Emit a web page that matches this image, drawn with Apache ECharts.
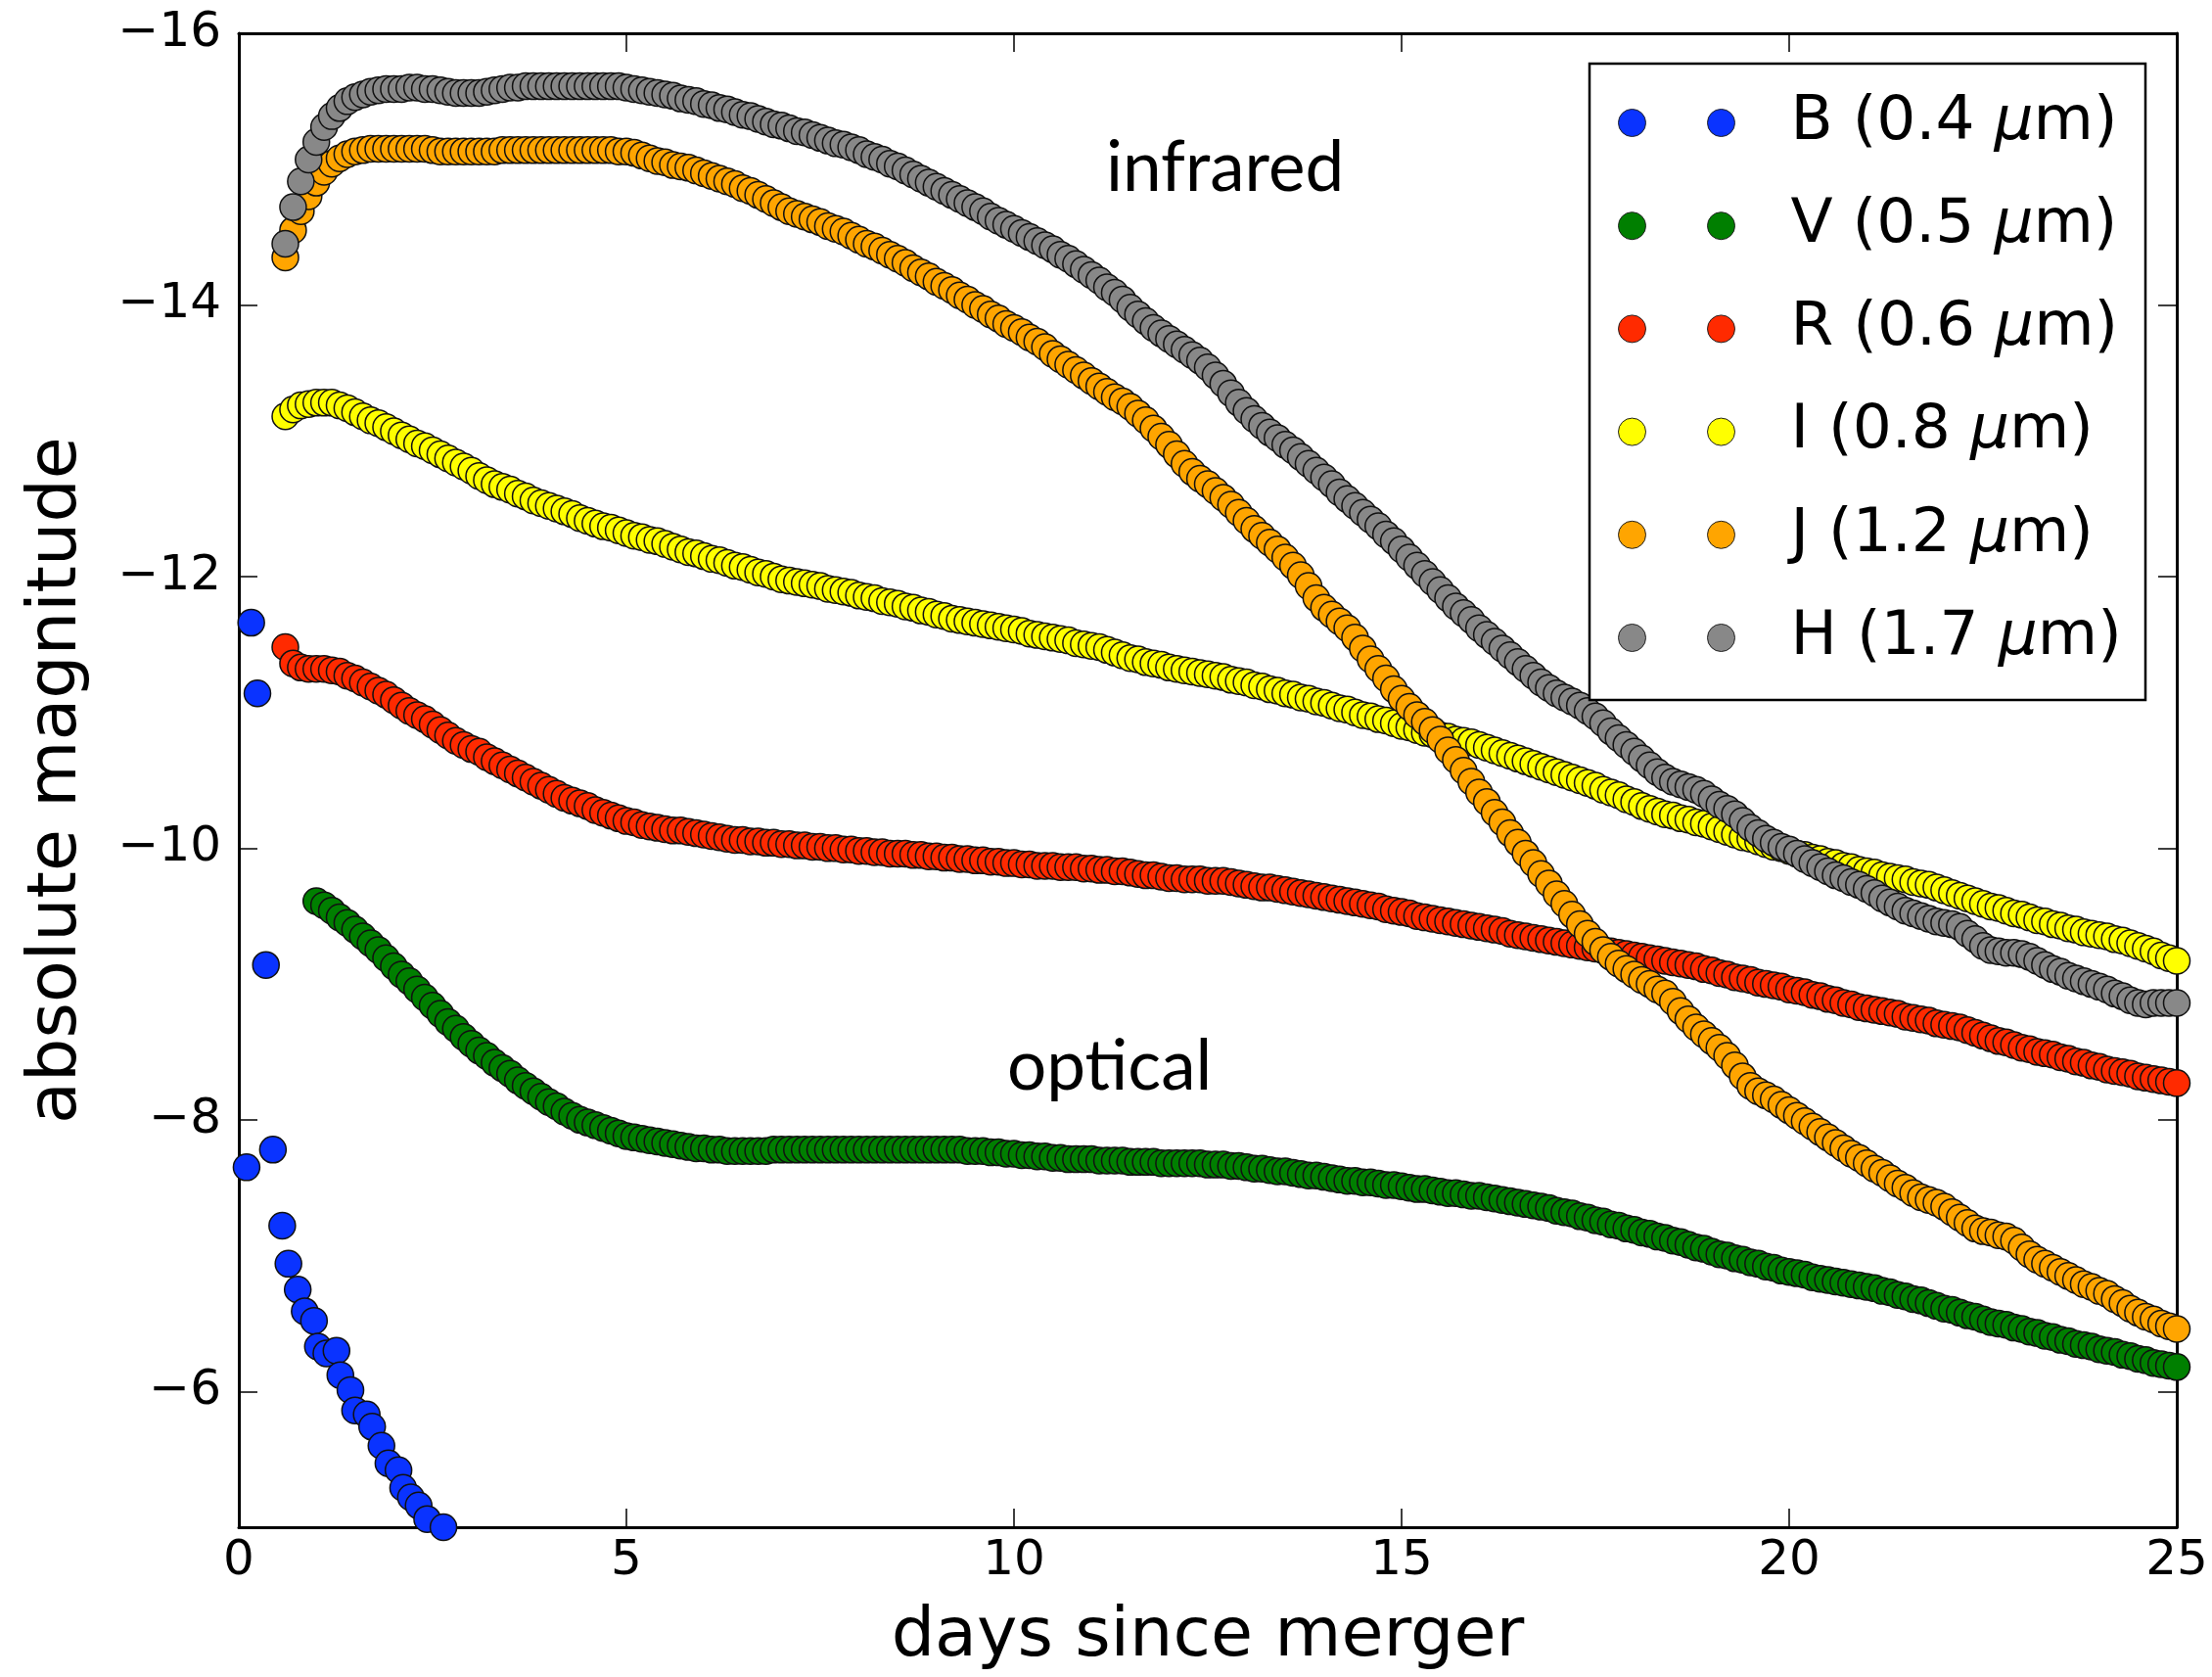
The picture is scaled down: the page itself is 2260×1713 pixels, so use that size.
<!DOCTYPE html>
<html><head><meta charset="utf-8">
<script src="https://cdn.jsdelivr.net/npm/echarts@6/dist/echarts.min.js"></script>
<style>html,body{margin:0;padding:0;background:#fff}#c{width:2260px;height:1713px}</style>
</head><body><div id="c"></div>
<script>
// ---------- DATA ----------
const days = [0.6,0.7,0.8,0.9,
1.0,1.1,1.2,1.3,1.4,1.5,1.6,1.7,1.8,1.9,
2.0,2.1,2.2,2.3,2.4,2.5,2.6,2.7,2.8,2.9,
3.0,3.1,3.2,3.3,3.4,3.5,3.6,3.7,3.8,3.9,
4.0,4.1,4.2,4.3,4.4,4.5,4.6,4.7,4.8,4.9,
5.0,5.1,5.2,5.3,5.4,5.5,5.6,5.7,5.8,5.9,
6.0,6.1,6.2,6.3,6.4,6.5,6.6,6.7,6.8,6.9,
7.0,7.1,7.2,7.3,7.4,7.5,7.6,7.7,7.8,7.9,
8.0,8.1,8.2,8.3,8.4,8.5,8.6,8.7,8.8,8.9,
9.0,9.1,9.2,9.3,9.4,9.5,9.6,9.7,9.8,9.9,
10.0,10.1,10.2,10.3,10.4,10.5,10.6,10.7,10.8,10.9,
11.0,11.1,11.2,11.3,11.4,11.5,11.6,11.7,11.8,11.9,
12.0,12.1,12.2,12.3,12.4,12.5,12.6,12.7,12.8,12.9,
13.0,13.1,13.2,13.3,13.4,13.5,13.6,13.7,13.8,13.9,
14.0,14.1,14.2,14.3,14.4,14.5,14.6,14.7,14.8,14.9,
15.0,15.1,15.2,15.3,15.4,15.5,15.6,15.7,15.8,15.9,
16.0,16.1,16.2,16.3,16.4,16.5,16.6,16.7,16.8,16.9,
17.0,17.1,17.2,17.3,17.4,17.5,17.6,17.7,17.8,17.9,
18.0,18.1,18.2,18.3,18.4,18.5,18.6,18.7,18.8,18.9,
19.0,19.1,19.2,19.3,19.4,19.5,19.6,19.7,19.8,19.9,
20.0,20.1,20.2,20.3,20.4,20.5,20.6,20.7,20.8,20.9,
21.0,21.1,21.2,21.3,21.4,21.5,21.6,21.7,21.8,21.9,
22.0,22.1,22.2,22.3,22.4,22.5,22.6,22.7,22.8,22.9,
23.0,23.1,23.2,23.3,23.4,23.5,23.6,23.7,23.8,23.9,
24.0,24.1,24.2,24.3,24.4,24.5,24.6,24.7,24.8,24.9,
25.0];

// B band: its own sampling times
const bDays = [0.10,0.16,0.24,0.35,0.44,0.56,0.64,0.76,0.85,0.97,1.02,1.13,1.26,1.31,1.44,1.50,1.65,1.72,1.84,1.93,2.06,2.12,2.22,2.32,2.43,2.64];
const bMag  = [-7.65,-11.66,-11.14,-9.14,-7.78,-7.22,-6.94,-6.75,-6.59,-6.52,-6.33,-6.28,-6.30,-6.12,-6.01,-5.86,-5.83,-5.74,-5.60,-5.47,-5.42,-5.29,-5.22,-5.16,-5.06,-5.00];

// V band: starts at day 1.0 (index 4 of days)
const vStartIndex = 4;
const vMag = [
-9.61,-9.58,-9.54,-9.49,-9.45,-9.40,-9.35,-9.30,-9.25,-9.19,
-9.13,-9.07,-9.02,-8.96,-8.90,-8.84,-8.78,-8.72,-8.67,-8.61,
-8.56,-8.51,-8.47,-8.42,-8.38,-8.34,-8.29,-8.25,-8.21,-8.17,
-8.13,-8.10,-8.06,-8.03,-8.00,-7.98,-7.96,-7.94,-7.92,-7.90,
-7.88,-7.87,-7.86,-7.85,-7.84,-7.83,-7.82,-7.81,-7.80,-7.79,
-7.79,-7.78,-7.78,-7.77,-7.77,-7.77,-7.77,-7.77,-7.77,-7.78,
-7.78,-7.78,-7.78,-7.78,-7.78,-7.78,-7.78,-7.78,-7.78,-7.78,
-7.78,-7.78,-7.78,-7.78,-7.78,-7.78,-7.78,-7.78,-7.78,-7.78,
-7.78,-7.78,-7.78,-7.78,-7.77,-7.77,-7.77,-7.76,-7.76,-7.75,
-7.75,-7.74,-7.74,-7.73,-7.73,-7.72,-7.72,-7.71,-7.71,-7.71,
-7.71,-7.70,-7.70,-7.70,-7.70,-7.69,-7.69,-7.69,-7.69,-7.68,
-7.68,-7.68,-7.68,-7.68,-7.68,-7.67,-7.67,-7.67,-7.66,-7.66,
-7.65,-7.64,-7.64,-7.63,-7.62,-7.62,-7.61,-7.60,-7.59,-7.59,
-7.58,-7.57,-7.56,-7.55,-7.55,-7.54,-7.54,-7.53,-7.52,-7.52,
-7.51,-7.50,-7.49,-7.49,-7.48,-7.47,-7.46,-7.46,-7.45,-7.44,
-7.44,-7.43,-7.42,-7.41,-7.40,-7.39,-7.38,-7.37,-7.36,-7.35,
-7.33,-7.32,-7.31,-7.29,-7.28,-7.26,-7.25,-7.23,-7.22,-7.20,
-7.19,-7.17,-7.16,-7.14,-7.13,-7.11,-7.10,-7.08,-7.06,-7.05,
-7.03,-7.01,-7.00,-6.98,-6.97,-6.95,-6.94,-6.92,-6.91,-6.89,
-6.88,-6.87,-6.86,-6.84,-6.83,-6.82,-6.81,-6.80,-6.79,-6.78,
-6.77,-6.76,-6.74,-6.73,-6.71,-6.70,-6.68,-6.67,-6.65,-6.63,
-6.61,-6.60,-6.58,-6.56,-6.55,-6.53,-6.51,-6.50,-6.49,-6.47,
-6.46,-6.44,-6.43,-6.41,-6.40,-6.38,-6.37,-6.35,-6.34,-6.33,
-6.31,-6.30,-6.29,-6.27,-6.26,-6.24,-6.23,-6.21,-6.20,-6.19,
-6.18];

const rMag = [
-11.48,-11.36,-11.33,-11.32,
-11.32,-11.32,-11.31,-11.30,-11.27,-11.25,-11.22,-11.19,-11.16,-11.13,
-11.09,-11.05,-11.01,-10.98,-10.95,-10.91,-10.87,-10.83,-10.79,-10.76,
-10.73,-10.71,-10.67,-10.64,-10.61,-10.58,-10.55,-10.52,-10.49,-10.46,
-10.43,-10.40,-10.37,-10.35,-10.33,-10.31,-10.28,-10.26,-10.24,-10.22,
-10.20,-10.19,-10.17,-10.16,-10.15,-10.14,-10.13,-10.13,-10.12,-10.11,
-10.10,-10.09,-10.08,-10.07,-10.06,-10.06,-10.05,-10.05,-10.04,-10.04,
-10.03,-10.03,-10.02,-10.02,-10.01,-10.01,-10.00,-10.00,-9.99,-9.99,
-9.98,-9.98,-9.97,-9.97,-9.96,-9.96,-9.96,-9.95,-9.95,-9.94,
-9.94,-9.93,-9.93,-9.92,-9.92,-9.91,-9.91,-9.90,-9.90,-9.89,
-9.89,-9.88,-9.88,-9.87,-9.87,-9.87,-9.86,-9.86,-9.86,-9.85,
-9.85,-9.84,-9.84,-9.83,-9.83,-9.82,-9.81,-9.80,-9.80,-9.79,
-9.78,-9.78,-9.77,-9.77,-9.77,-9.76,-9.76,-9.76,-9.75,-9.74,
-9.73,-9.72,-9.71,-9.71,-9.70,-9.69,-9.68,-9.67,-9.66,-9.65,
-9.64,-9.63,-9.62,-9.61,-9.60,-9.59,-9.58,-9.57,-9.55,-9.54,
-9.53,-9.52,-9.50,-9.49,-9.48,-9.47,-9.46,-9.45,-9.44,-9.43,
-9.42,-9.41,-9.40,-9.39,-9.37,-9.36,-9.35,-9.34,-9.33,-9.32,
-9.31,-9.30,-9.29,-9.28,-9.27,-9.26,-9.25,-9.24,-9.23,-9.22,
-9.21,-9.20,-9.19,-9.18,-9.17,-9.16,-9.15,-9.14,-9.13,-9.11,
-9.10,-9.08,-9.07,-9.05,-9.04,-9.03,-9.01,-9.00,-8.99,-8.98,
-8.96,-8.95,-8.94,-8.92,-8.91,-8.89,-8.88,-8.86,-8.85,-8.83,
-8.82,-8.81,-8.80,-8.79,-8.78,-8.76,-8.75,-8.74,-8.73,-8.71,
-8.70,-8.69,-8.68,-8.66,-8.64,-8.62,-8.60,-8.58,-8.57,-8.55,
-8.53,-8.52,-8.50,-8.49,-8.48,-8.46,-8.45,-8.43,-8.42,-8.40,
-8.39,-8.37,-8.36,-8.35,-8.34,-8.32,-8.31,-8.30,-8.29,-8.28,
-8.27];

const iMag = [
-13.18,-13.23,-13.26,-13.27,
-13.28,-13.28,-13.28,-13.26,-13.24,-13.21,-13.18,-13.15,-13.13,-13.10,
-13.07,-13.04,-13.01,-12.98,-12.96,-12.93,-12.90,-12.87,-12.84,-12.81,
-12.78,-12.74,-12.71,-12.68,-12.66,-12.64,-12.61,-12.59,-12.56,-12.54,
-12.52,-12.50,-12.48,-12.46,-12.43,-12.41,-12.39,-12.37,-12.36,-12.34,
-12.32,-12.30,-12.29,-12.27,-12.26,-12.24,-12.22,-12.20,-12.18,-12.17,
-12.15,-12.13,-12.12,-12.10,-12.08,-12.07,-12.05,-12.03,-12.02,-12.00,
-11.98,-11.97,-11.96,-11.95,-11.94,-11.93,-11.91,-11.90,-11.89,-11.88,
-11.86,-11.85,-11.84,-11.82,-11.81,-11.80,-11.78,-11.77,-11.75,-11.74,
-11.72,-11.71,-11.69,-11.68,-11.67,-11.66,-11.65,-11.64,-11.63,-11.62,
-11.61,-11.60,-11.58,-11.57,-11.56,-11.55,-11.54,-11.53,-11.51,-11.50,
-11.49,-11.48,-11.46,-11.44,-11.42,-11.40,-11.39,-11.37,-11.36,-11.35,
-11.33,-11.32,-11.31,-11.30,-11.29,-11.28,-11.27,-11.26,-11.24,-11.23,
-11.22,-11.20,-11.19,-11.17,-11.16,-11.14,-11.13,-11.11,-11.10,-11.08,
-11.07,-11.05,-11.03,-11.02,-11.00,-10.98,-10.97,-10.95,-10.94,-10.92,
-10.90,-10.89,-10.87,-10.85,-10.84,-10.83,-10.82,-10.80,-10.79,-10.78,
-10.76,-10.74,-10.72,-10.70,-10.68,-10.66,-10.64,-10.62,-10.60,-10.58,
-10.56,-10.54,-10.52,-10.50,-10.48,-10.46,-10.43,-10.41,-10.39,-10.36,
-10.34,-10.31,-10.29,-10.27,-10.25,-10.24,-10.22,-10.21,-10.19,-10.18,
-10.16,-10.14,-10.12,-10.10,-10.08,-10.07,-10.05,-10.03,-10.01,-10.00,
-9.98,-9.96,-9.95,-9.93,-9.92,-9.90,-9.89,-9.87,-9.86,-9.84,
-9.83,-9.82,-9.80,-9.79,-9.78,-9.77,-9.75,-9.74,-9.73,-9.71,
-9.69,-9.67,-9.65,-9.63,-9.61,-9.59,-9.57,-9.56,-9.54,-9.52,
-9.51,-9.49,-9.47,-9.46,-9.44,-9.43,-9.41,-9.40,-9.38,-9.37,
-9.36,-9.35,-9.33,-9.32,-9.30,-9.28,-9.26,-9.24,-9.21,-9.19,
-9.17];

const jMag = [
-14.35,-14.55,-14.69,-14.80,
-14.90,-14.98,-15.04,-15.08,-15.11,-15.13,-15.14,-15.15,-15.15,-15.15,
-15.15,-15.15,-15.15,-15.15,-15.15,-15.14,-15.13,-15.13,-15.13,-15.13,
-15.13,-15.13,-15.13,-15.13,-15.14,-15.14,-15.14,-15.14,-15.14,-15.14,
-15.14,-15.14,-15.14,-15.14,-15.14,-15.14,-15.14,-15.14,-15.14,-15.13,
-15.13,-15.12,-15.10,-15.08,-15.06,-15.05,-15.03,-15.02,-15.01,-14.99,
-14.97,-14.95,-14.93,-14.91,-14.89,-14.86,-14.84,-14.81,-14.78,-14.75,
-14.72,-14.69,-14.67,-14.65,-14.63,-14.61,-14.58,-14.56,-14.54,-14.51,
-14.48,-14.45,-14.43,-14.40,-14.37,-14.34,-14.31,-14.27,-14.24,-14.21,
-14.17,-14.14,-14.11,-14.07,-14.04,-14.00,-13.97,-13.93,-13.90,-13.86,
-13.83,-13.80,-13.76,-13.73,-13.69,-13.64,-13.60,-13.56,-13.52,-13.48,
-13.44,-13.40,-13.36,-13.32,-13.29,-13.25,-13.20,-13.15,-13.09,-13.03,
-12.97,-12.90,-12.83,-12.77,-12.72,-12.68,-12.63,-12.58,-12.53,-12.47,
-12.41,-12.35,-12.30,-12.25,-12.20,-12.14,-12.08,-12.01,-11.93,-11.84,
-11.77,-11.72,-11.67,-11.62,-11.55,-11.47,-11.39,-11.32,-11.25,-11.17,
-11.10,-11.04,-10.98,-10.93,-10.87,-10.80,-10.72,-10.65,-10.57,-10.49,
-10.41,-10.34,-10.26,-10.19,-10.11,-10.04,-9.96,-9.89,-9.81,-9.74,
-9.66,-9.59,-9.51,-9.44,-9.37,-9.31,-9.25,-9.20,-9.15,-9.11,
-9.07,-9.03,-9.00,-8.96,-8.93,-8.87,-8.80,-8.74,-8.68,-8.63,
-8.58,-8.53,-8.47,-8.40,-8.32,-8.25,-8.21,-8.18,-8.15,-8.11,
-8.07,-8.03,-7.99,-7.95,-7.91,-7.87,-7.83,-7.79,-7.75,-7.72,
-7.68,-7.64,-7.61,-7.57,-7.53,-7.50,-7.46,-7.43,-7.41,-7.39,
-7.36,-7.32,-7.28,-7.24,-7.20,-7.18,-7.17,-7.15,-7.14,-7.11,
-7.06,-7.01,-6.97,-6.94,-6.91,-6.88,-6.85,-6.82,-6.79,-6.77,
-6.74,-6.72,-6.68,-6.65,-6.61,-6.58,-6.55,-6.53,-6.50,-6.48,
-6.46];

const hMag = [
-14.45,-14.72,-14.91,-15.07,
-15.20,-15.31,-15.39,-15.45,-15.50,-15.53,-15.55,-15.57,-15.58,-15.59,
-15.59,-15.59,-15.60,-15.60,-15.59,-15.59,-15.58,-15.57,-15.56,-15.56,
-15.56,-15.56,-15.57,-15.58,-15.59,-15.60,-15.60,-15.61,-15.61,-15.61,
-15.61,-15.61,-15.61,-15.61,-15.61,-15.61,-15.61,-15.61,-15.61,-15.61,
-15.60,-15.59,-15.58,-15.57,-15.56,-15.55,-15.54,-15.52,-15.51,-15.50,
-15.48,-15.47,-15.45,-15.44,-15.42,-15.40,-15.39,-15.37,-15.35,-15.33,
-15.32,-15.30,-15.28,-15.27,-15.25,-15.23,-15.21,-15.19,-15.18,-15.16,
-15.14,-15.11,-15.09,-15.07,-15.04,-15.02,-14.99,-14.96,-14.93,-14.90,
-14.87,-14.84,-14.81,-14.78,-14.75,-14.72,-14.69,-14.65,-14.62,-14.59,
-14.56,-14.53,-14.50,-14.47,-14.44,-14.41,-14.37,-14.34,-14.30,-14.26,
-14.22,-14.18,-14.13,-14.09,-14.04,-13.98,-13.93,-13.88,-13.83,-13.79,
-13.75,-13.71,-13.67,-13.63,-13.59,-13.54,-13.48,-13.42,-13.35,-13.28,
-13.22,-13.16,-13.11,-13.06,-13.02,-12.97,-12.93,-12.88,-12.83,-12.78,
-12.73,-12.68,-12.62,-12.57,-12.52,-12.47,-12.42,-12.37,-12.31,-12.26,
-12.20,-12.14,-12.08,-12.02,-11.96,-11.90,-11.84,-11.78,-11.73,-11.68,
-11.62,-11.57,-11.52,-11.47,-11.42,-11.37,-11.32,-11.27,-11.22,-11.18,
-11.14,-11.11,-11.08,-11.05,-11.01,-10.97,-10.92,-10.86,-10.81,-10.76,
-10.71,-10.66,-10.61,-10.56,-10.52,-10.49,-10.47,-10.45,-10.43,-10.40,
-10.36,-10.32,-10.29,-10.25,-10.20,-10.15,-10.11,-10.07,-10.04,-10.01,
-9.99,-9.96,-9.92,-9.89,-9.86,-9.83,-9.80,-9.78,-9.75,-9.73,
-9.70,-9.67,-9.63,-9.60,-9.57,-9.54,-9.52,-9.50,-9.48,-9.46,
-9.45,-9.44,-9.42,-9.37,-9.33,-9.28,-9.25,-9.24,-9.23,-9.23,
-9.22,-9.20,-9.17,-9.14,-9.11,-9.09,-9.06,-9.04,-9.02,-9.00,
-8.98,-8.96,-8.93,-8.91,-8.88,-8.86,-8.85,-8.86,-8.86,-8.86,
-8.86];

const bandNames = ['B (0.4 μm)', 'V (0.5 μm)', 'R (0.6 μm)', 'I (0.8 μm)', 'J (1.2 μm)', 'H (1.7 μm)'];
const xTickValues = [0, 5, 10, 15, 20, 25];
const yTickValues = [-16, -14, -12, -10, -8, -6];
const annotations = ['infrared', 'optical'];

// ---------- STYLE ----------
const bandColors = ['#0a33ff', '#007f00', '#ff2a00', '#ffff00', '#ffa500', '#888888'];
const FONT = "'DejaVu Sans', sans-serif";
const NOTE_FONT = "71px Lato, 'Open Sans', sans-serif";

function pair(xs, ys) { return ys.map((v, i) => [xs[i], v]); }

const seriesData = [
  pair(bDays, bMag),
  pair(days.slice(vStartIndex), vMag),
  pair(days, rMag),
  pair(days, iMag),
  pair(days, jMag),
  pair(days, hMag)
];

const chart = echarts.init(document.getElementById('c'), null, { renderer: 'canvas' });

const axisLineStyle = { color: '#000', width: 3 };
const tickStyle = { show: true, inside: true, length: 19, lineStyle: { color: '#000', width: 1.5 } };

const option = {
  animation: false,
  backgroundColor: '#fff',
  grid: { left: 244, right: 36, top: 34, bottom: 149, containLabel: false },
  xAxis: [{
    type: 'value', min: 0, max: 25, interval: 5, position: 'bottom',
    axisLine: { onZero: false, lineStyle: axisLineStyle },
    axisTick: tickStyle,
    splitLine: { show: false },
    axisLabel: { color: '#000', fontSize: 50, fontFamily: FONT, margin: 10,
      formatter: v => xTickValues.indexOf(v) >= 0 ? String(v) : '' },
    name: 'days since merger', nameLocation: 'middle', nameGap: 78,
    nameTextStyle: { color: '#000', fontSize: 70, fontFamily: FONT }
  }, {
    type: 'value', min: 0, max: 25, interval: 5, position: 'top',
    axisLine: { onZero: false, lineStyle: axisLineStyle },
    axisTick: tickStyle, axisLabel: { show: false }, splitLine: { show: false }
  }],
  yAxis: [{
    type: 'value', min: -16, max: -5, interval: 2, inverse: true, position: 'left',
    axisLine: { onZero: false, lineStyle: axisLineStyle },
    axisTick: tickStyle,
    splitLine: { show: false },
    axisLabel: { color: '#000', fontSize: 50, fontFamily: FONT, margin: 18,
      formatter: v => yTickValues.indexOf(v) >= 0 ? (v < 0 ? '\u2212' + Math.abs(v) : String(v)) : '' },
    name: 'absolute magnitude', nameLocation: 'middle', nameGap: 150,
    nameTextStyle: { color: '#000', fontSize: 70, fontFamily: FONT }
  }, {
    type: 'value', min: -16, max: -5, interval: 2, inverse: true, position: 'right',
    axisLine: { onZero: false, lineStyle: axisLineStyle },
    axisTick: tickStyle, axisLabel: { show: false }, splitLine: { show: false }
  }],
  legend: {
    orient: 'vertical', left: 1653, top: 93, padding: 0,
    itemGap: 40.2, itemWidth: 119, itemHeight: 28,
    icon: 'path://M0,14 A14,14 0 1,1 28,14 A14,14 0 1,1 0,14 Z M91,14 A14,14 0 1,1 119,14 A14,14 0 1,1 91,14 Z',
    selectedMode: false,
    data: bandNames,
    itemStyle: { borderColor: '#222', borderWidth: 1 },
    formatter: name => name.replace('μ', '{mu|μ}'),
    textStyle: { color: '#000', fontSize: 63, fontFamily: FONT, lineHeight: 65, padding: [0, 0, 0, 52],
      rich: { mu: { fontSize: 63, fontFamily: FONT, fontStyle: 'italic', color: '#000', lineHeight: 65 } } }
  },
  graphic: [
    { type: 'rect', z: 3, shape: { x: 1624, y: 65, width: 568, height: 650 },
      style: { fill: '#fff', stroke: '#000', lineWidth: 2.5 } },
    { type: 'text', z: 5, left: 1130, top: 137,
      style: { text: annotations[0], fill: '#000', font: NOTE_FONT } },
    { type: 'text', z: 5, left: 1029, top: 1055,
      style: { text: annotations[1], fill: '#000', font: NOTE_FONT } }
  ],
  series: seriesData.map((d, k) => ({
    type: 'scatter', name: bandNames[k], data: d,
    xAxisIndex: 0, yAxisIndex: 0,
    symbol: 'circle', symbolSize: 27,
    itemStyle: { color: bandColors[k], borderColor: '#111', borderWidth: 1.5, opacity: 1 },
    emphasis: { disabled: true },
    z: 2
  }))
};
chart.setOption(option);
</script>
</body></html>
